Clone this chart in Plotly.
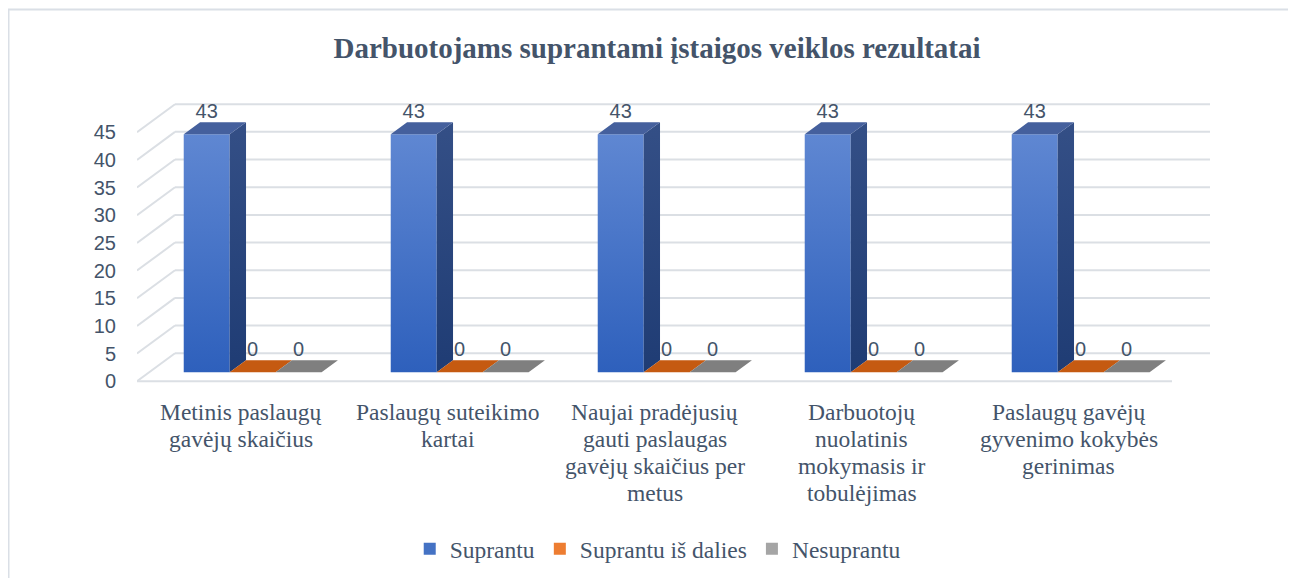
import plotly.graph_objects as go

# ---------------- data ----------------
categories = [
    "Metinis paslaugų<br>gavėjų skaičius",
    "Paslaugų suteikimo<br>kartai",
    "Naujai pradėjusių<br>gauti paslaugas<br>gavėjų skaičius per<br>metus",
    "Darbuotojų<br>nuolatinis<br>mokymasis ir<br>tobulėjimas",
    "Paslaugų gavėjų<br>gyvenimo kokybės<br>gerinimas",
]
series_names = ["Suprantu", "Suprantu iš dalies", "Nesuprantu"]
suprantu = [43, 43, 43, 43, 43]
suprantu_is_dalies = [0, 0, 0, 0, 0]
nesuprantu = [0, 0, 0, 0, 0]
y_ticks = [0, 5, 10, 15, 20, 25, 30, 35, 40, 45]
title_text = "Darbuotojams suprantami įstaigos veiklos rezultatai"

series_values = [suprantu, suprantu_is_dalies, nesuprantu]

# ---------------- style / 3-D projection settings ----------------
DEPTH_X = 0.1836   # horizontal shift of full depth, in category units
DEPTH_Y = 5.06     # vertical shift of full depth, in value units
BAR_W = 0.222      # bar width, category units
D0, D1 = 0.32, 0.75  # bar depth span (fraction of full depth)
GRID_COLOR = "#DBDFE4"
TEXT_COLOR = "#44546A"
SERIF = "Liberation Serif, Times New Roman, serif"
SANS = "Liberation Sans, Arial, sans-serif"
CAT_FONT = 23.5
LINE_GAP = 27      # px between category label lines
FIRST_LINE = 28    # px from plot bottom to first label line
LABEL_LIFT = 1.7   # value units above bar top for data labels

PLOT_L, PLOT_T, PLOT_W, PLOT_H = 129, 91, 1073, 285

face_colors = [
    dict(front=("#2E60BC", "#5F87D2"), side=("#1F3C74", "#344F86"), top="#45609D", legend="#4472C4"),
    dict(front=("#D86A1E", "#F08A45"), side=("#9A4A12", "#B35A1C"), top="#C55A11", legend="#ED7D31"),
    dict(front=("#8F8F8F", "#B5B5B5"), side=("#666666", "#787878"), top="#7F7F7F", legend="#A5A5A5"),
]

n_cat = len(categories)
n_ser = len(series_values)


def proj(x, v, d):
    return x + d * DEPTH_X, v + d * DEPTH_Y


fig = go.Figure()

# ---- walls / gridlines ----
gx, gy = [], []
for v in y_ticks:
    x0, y0 = proj(0, v, 1)
    x1, y1 = proj(n_cat, v, 1)
    gx += [x0, x1, None]
    gy += [y0, y1, None]
    a0, b0 = proj(0, v, 0)
    gx += [a0, x0, None]
    gy += [b0, y0, None]
fx0, fy0 = proj(0, 0, 0)
fx1, fy1 = proj(n_cat, 0, 0)
gx += [fx0, fx1, None]
gy += [fy0, fy1, None]
fig.add_trace(go.Scatter(x=gx, y=gy, mode="lines", line=dict(color=GRID_COLOR, width=2),
                         hoverinfo="skip", showlegend=False))

# ---- bars ----
lab_x, lab_y, lab_t = [], [], []
for s, vals in enumerate(series_values):
    col = face_colors[s]
    front_x, front_y, side_x, side_y, top_x, top_y = [], [], [], [], [], []
    for i, v in enumerate(vals):
        left = i + 0.5 - n_ser * BAR_W / 2 + s * BAR_W
        right = left + BAR_W
        pts = [proj(left, 0, D0), proj(right, 0, D0), proj(right, v, D0), proj(left, v, D0), proj(left, 0, D0)]
        front_x += [p[0] for p in pts] + [None]
        front_y += [p[1] for p in pts] + [None]
        pts = [proj(right, 0, D0), proj(right, 0, D1), proj(right, v, D1), proj(right, v, D0), proj(right, 0, D0)]
        side_x += [p[0] for p in pts] + [None]
        side_y += [p[1] for p in pts] + [None]
        pts = [proj(left, v, D0), proj(right, v, D0), proj(right, v, D1), proj(left, v, D1), proj(left, v, D0)]
        top_x += [p[0] for p in pts] + [None]
        top_y += [p[1] for p in pts] + [None]
        lx, _ = proj(left + BAR_W / 2, v, D0)
        _, ly = proj(left, v, D1)
        lab_x.append(lx)
        lab_y.append(ly + LABEL_LIFT)
        lab_t.append(str(v))
    vmax = max(vals) if max(vals) > 0 else 1
    fig.add_trace(go.Scatter(
        x=front_x, y=front_y, mode="lines", fill="toself", line=dict(width=0),
        fillgradient=dict(type="vertical", start=D0 * DEPTH_Y, stop=vmax + D0 * DEPTH_Y,
                          colorscale=[[0, col["front"][0]], [1, col["front"][1]]]),
        hoverinfo="skip", showlegend=False))
    fig.add_trace(go.Scatter(
        x=side_x, y=side_y, mode="lines", fill="toself", line=dict(width=0),
        fillgradient=dict(type="vertical", start=D0 * DEPTH_Y, stop=vmax + D1 * DEPTH_Y,
                          colorscale=[[0, col["side"][0]], [1, col["side"][1]]]),
        hoverinfo="skip", showlegend=False))
    fig.add_trace(go.Scatter(
        x=top_x, y=top_y, mode="lines", fill="toself", line=dict(width=0),
        fillcolor=col["top"], hoverinfo="skip", showlegend=False))

fig.add_trace(go.Scatter(x=lab_x, y=lab_y, mode="text", text=lab_t, textposition="middle center",
                         textfont=dict(family=SANS, size=20, color=TEXT_COLOR),
                         hoverinfo="skip", showlegend=False, cliponaxis=False))

for s, name in enumerate(series_names):
    fig.add_trace(go.Scatter(x=[None], y=[None], mode="markers", name=name,
                             marker=dict(symbol="square", size=12, color=face_colors[s]["legend"])))

# category labels, one annotation per line to control line spacing
annotations = []
for i, cat in enumerate(categories):
    for k, line in enumerate(cat.split("<br>")):
        annotations.append(dict(
            text=line, x=i + 0.5, xref="x", y=0, yref="paper", xanchor="center", yanchor="middle",
            yshift=-(FIRST_LINE + k * LINE_GAP), showarrow=False,
            font=dict(family=SERIF, size=CAT_FONT, color=TEXT_COLOR)))

fig.update_layout(
    width=1296, height=578, autosize=False,
    margin=dict(l=PLOT_L, r=1296 - PLOT_L - PLOT_W, t=PLOT_T, b=578 - PLOT_T - PLOT_H),
    paper_bgcolor="white", plot_bgcolor="white",
    title=dict(text="<b>" + title_text + "</b>", x=0.5008, xref="container", xanchor="center",
               y=1 - 40 / 578, yref="container", yanchor="middle",
               font=dict(family=SERIF, size=29, color=TEXT_COLOR)),
    xaxis=dict(range=[0, n_cat + DEPTH_X], showticklabels=False,
               showgrid=False, zeroline=False, showline=False, ticks="", fixedrange=True),
    yaxis=dict(range=[-0.5, 51], tickmode="array", tickvals=y_ticks,
               ticktext=[str(t) for t in y_ticks],
               showgrid=False, zeroline=False, showline=False, ticks="",
               tickfont=dict(family=SANS, size=20, color=TEXT_COLOR), ticklabelstandoff=20,
               fixedrange=True),
    legend=dict(orientation="h", x=0.4853, xanchor="center", y=-0.579, yanchor="middle",
                font=dict(family=SERIF, size=CAT_FONT, color=TEXT_COLOR), itemclick=False),
    annotations=annotations,
    shapes=[dict(type="rect", xref="paper", yref="paper",
                 x0=(0.5 - PLOT_L) / PLOT_W, x1=1.3,
                 y0=-1.0, y1=(PLOT_T + PLOT_H - 1.5) / PLOT_H,
                 line=dict(color="#DADFE6", width=2), fillcolor="rgba(0,0,0,0)", layer="below")],
    showlegend=True,
)

fig.write_html("out.html")
